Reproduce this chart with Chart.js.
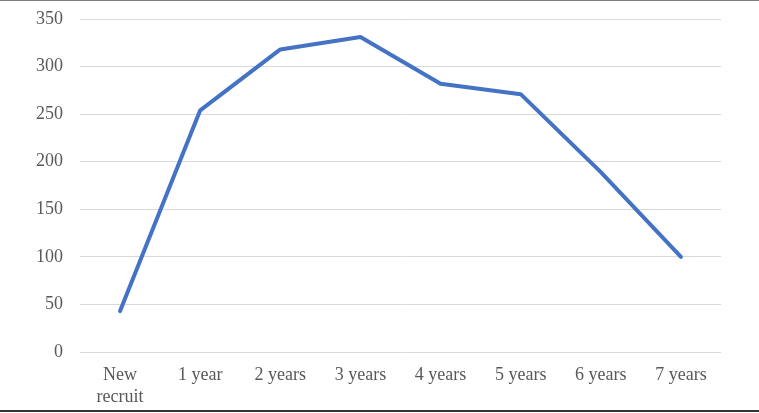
<!DOCTYPE html>
<html>
<head>
<meta charset="utf-8">
<script src="https://cdn.jsdelivr.net/npm/chart.js@4/dist/chart.umd.min.js"></script>
<style>
  html, body { margin: 0; padding: 0; background: #fff; }
  #wrap { position: relative; width: 759px; height: 413px; overflow: hidden; }
  #chart { position: absolute; left: 0; top: 0; }
  .topline { position: absolute; left: 0; top: 0; width: 759px; height: 1px; background: #7f7f7f; }
  .bottomline { position: absolute; left: 0; top: 410px; width: 759px; height: 2px; background: #333; }
</style>
</head>
<body>
<div id="wrap">
  <canvas id="chart" width="759" height="413"></canvas>
  <div class="topline"></div>
  <div class="bottomline"></div>
</div>
<script>
// data
const categories = [["New", "recruit"], "1 year", "2 years", "3 years", "4 years", "5 years", "6 years", "7 years"];
const counts = [43, 254, 318, 331, 282, 271, 189, 100];
const yTicks = [0, 50, 100, 150, 200, 250, 300, 350];

const labelFont = { family: "'Liberation Serif', 'Times New Roman', serif", size: 18, lineHeight: 1.22 };

const ctx = document.getElementById("chart").getContext("2d");
const chart = new Chart(ctx, {
    type: "line",
    data: {
        labels: categories,
        datasets: [{
            data: counts,
            borderColor: "#4472C4",
            borderWidth: 4,
            borderCapStyle: "round",
            borderJoinStyle: "round",
            pointRadius: 0,
            tension: 0,
            fill: false
        }]
    },
    options: {
        responsive: false,
        animation: false,
        layout: {
            padding: { left: 0, right: 38, top: 19, bottom: 0 }
        },
        plugins: {
            legend: { display: false },
            tooltip: { enabled: false }
        },
        scales: {
            x: {
                offset: true,
                grid: { display: false },
                border: { display: false },
                ticks: {
                    color: "#595959",
                    font: labelFont,
                    padding: 4,
                    maxRotation: 0,
                    autoSkip: false
                },
                afterFit: (scale) => { scale.height = 61; }
            },
            y: {
                min: 0,
                max: 350,
                afterBuildTicks: (scale) => { scale.ticks = yTicks.map(v => ({ value: v })); },
                grid: { color: "#d9d9d9", lineWidth: 1, drawTicks: false },
                border: { display: false },
                ticks: {
                    color: "#595959",
                    font: labelFont,
                    padding: 17
                },
                afterFit: (scale) => {
                    scale.width = 80;
                    scale.paddingTop = 0;
                    scale.paddingBottom = 0;
                }
            }
        }
    }
});
</script>
</body>
</html>
